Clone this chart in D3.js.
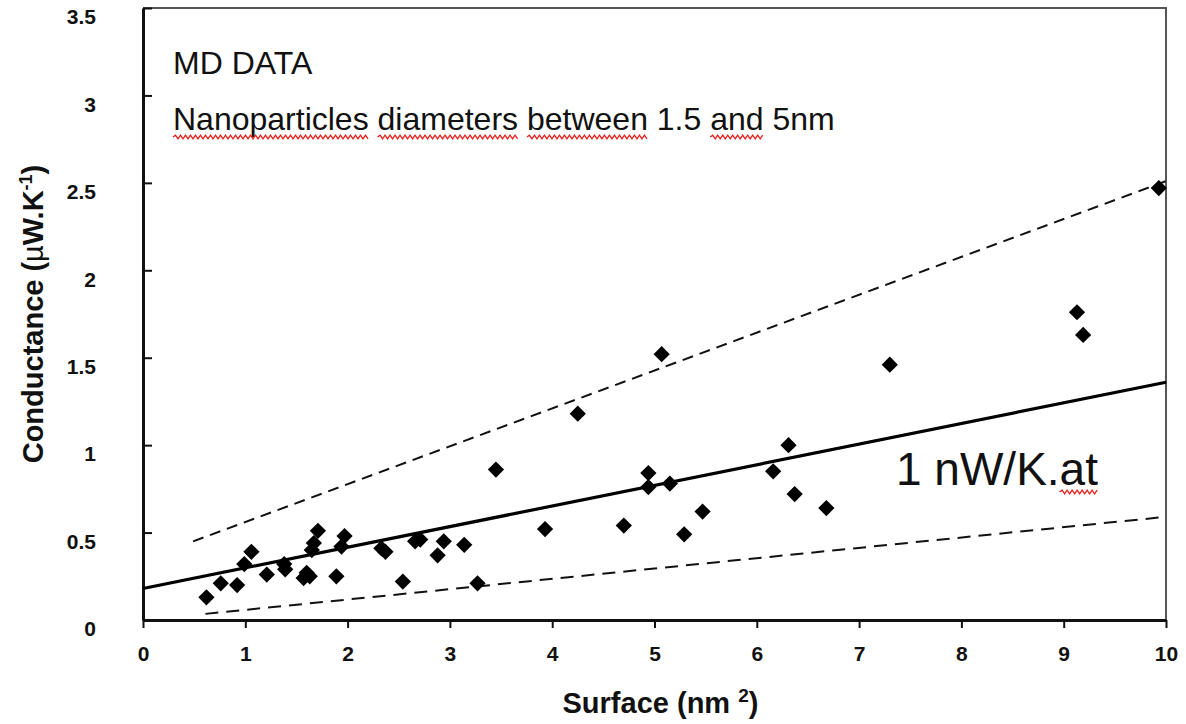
<!DOCTYPE html>
<html>
<head>
<meta charset="utf-8">
<script src="https://cdn.jsdelivr.net/npm/d3@7"></script>
<style>
  body { margin: 0; background: #fff; }
  text { font-family: "Liberation Sans", Arial, sans-serif; }
</style>
</head>
<body>
<script>
// MD data: surface (nm^2) vs conductance (uW/K)
var surface = [0.62, 0.76, 0.92, 0.99, 1.06, 1.21, 1.38, 1.39, 1.57, 1.60, 1.63, 1.65, 1.67, 1.71,
               1.89, 1.94, 1.97, 2.33, 2.37, 2.54, 2.66, 2.71, 2.88, 2.94, 3.14, 3.27, 3.45, 3.93,
               4.25, 4.70, 4.94, 4.94, 5.07, 5.15, 5.29, 5.47, 6.16, 6.31, 6.37, 6.68, 7.30, 9.13,
               9.19, 9.93];
var conductance = [0.13, 0.21, 0.20, 0.32, 0.39, 0.26, 0.32, 0.29, 0.24, 0.27, 0.25, 0.40, 0.44, 0.51,
                   0.25, 0.42, 0.48, 0.41, 0.39, 0.22, 0.45, 0.46, 0.37, 0.45, 0.43, 0.21, 0.86, 0.52,
                   1.18, 0.54, 0.84, 0.76, 1.52, 0.78, 0.49, 0.62, 0.85, 1.00, 0.72, 0.64, 1.46, 1.76,
                   1.63, 2.47];

// fit line (1 nW/K.at) and the two dashed bounds, as end points
var fitX = [0, 10],     fitY = [0.18, 1.36];
var upperX = [0.49, 10], upperY = [0.45, 2.51];
var lowerX = [0.61, 10], lowerY = [0.035, 0.59];

var xTicks = [0, 1, 2, 3, 4, 5, 6, 7, 8, 9, 10];
var yTicks = [0, 0.5, 1, 1.5, 2, 2.5, 3, 3.5];
var yTickLabels = ["0", "0.5", "1", "1.5", "2", "2.5", "3", "3.5"];

var width = 1186, height = 724;
var margin = {top: 8, right: 20, bottom: 104, left: 143};
var w = width - margin.left - margin.right;
var h = height - margin.top - margin.bottom;

var svg = d3.select("body").append("svg")
            .attr("width", width)
            .attr("height", height);

var g = svg.append("g")
           .attr("transform", "translate(" + margin.left + "," + margin.top + ")");

var x = d3.scaleLinear().domain([0, 10]).range([0, w]);
var y = d3.scaleLinear().domain([0, 3.5]).range([h, 0]);

// top and right frame, thin grey
g.append("path")
 .attr("d", "M0,0H" + w + "V" + h)
 .attr("fill", "none")
 .attr("stroke", "#555")
 .attr("stroke-width", 2);

// axes
var yAxis = g.append("g")
             .call(d3.axisLeft(y).tickValues(yTicks)
                     .tickFormat(function (d, i) { return yTickLabels[i]; })
                     .tickSizeInner(-9).tickSizeOuter(0).tickPadding(47));
var xAxis = g.append("g")
             .attr("transform", "translate(0," + h + ")")
             .call(d3.axisBottom(x).tickValues(xTicks).tickSizeInner(8).tickSizeOuter(0).tickPadding(18));

[xAxis, yAxis].forEach(function (a) {
  a.select(".domain").attr("stroke", "#111").attr("stroke-width", 3);
  a.selectAll(".tick line").attr("stroke", "#111").attr("stroke-width", 2);
  a.selectAll(".tick text")
   .attr("font-size", "21px")
   .attr("font-weight", "bold")
   .attr("font-family", "Liberation Sans, Arial, sans-serif")
   .attr("fill", "#111");
});
yAxis.selectAll(".tick text").attr("transform", "translate(0,9)");

// lines
var line = d3.line()
             .x(function (d) { return x(d[0]); })
             .y(function (d) { return y(d[1]); });

g.append("path")
 .datum(d3.zip(upperX, upperY))
 .attr("d", line)
 .attr("fill", "none")
 .attr("stroke", "#111")
 .attr("stroke-width", 2)
 .attr("stroke-dasharray", "11,7");

g.append("path")
 .datum(d3.zip(lowerX, lowerY))
 .attr("d", line)
 .attr("fill", "none")
 .attr("stroke", "#111")
 .attr("stroke-width", 2)
 .attr("stroke-dasharray", "13,8");

g.append("path")
 .datum(d3.zip(fitX, fitY))
 .attr("d", line)
 .attr("fill", "none")
 .attr("stroke", "#000")
 .attr("stroke-width", 3.2);

// diamond markers
var diamond = d3.symbol().type(d3.symbolSquare).size(132);
g.selectAll(".pt")
 .data(d3.zip(surface, conductance))
 .enter()
 .append("path")
 .attr("class", "pt")
 .attr("d", diamond)
 .attr("transform", function (d) { return "translate(" + x(d[0]) + "," + y(d[1]) + ") rotate(45)"; })
 .attr("fill", "#000");

// red spell-check squiggle under part of a text element
function squiggle(textSel, start, len, yy) {
  var node = textSel.node();
  var x0 = +textSel.attr("x") + (start > 0 ? node.getSubStringLength(0, start) : 0);
  var x1 = x0 + node.getSubStringLength(start, len);
  var d = "M" + x0 + "," + yy;
  var up = true;
  for (var xx = x0 + 2.5; xx <= x1; xx += 2.5) {
    d += "L" + xx + "," + (yy + (up ? -1.8 : 1.8));
    up = !up;
  }
  svg.append("path")
     .attr("d", d)
     .attr("fill", "none")
     .attr("stroke", "#e8201c")
     .attr("stroke-width", 1.3);
}

// annotations
svg.append("text")
   .attr("x", 173).attr("y", 74)
   .attr("font-size", "32px")
   .attr("fill", "#111")
   .text("MD DATA");

var nano = "Nanoparticles diameters between 1.5 and 5nm";
var nanoText = svg.append("text")
   .attr("x", 173).attr("y", 130)
   .attr("font-size", "32px")
   .attr("fill", "#111")
   .text(nano);
["Nanoparticles", "diameters", "between", "and"].forEach(function (word) {
  squiggle(nanoText, nano.indexOf(word), word.length, 137);
});

var fitLabel = "1 nW/K.at";
var fitText = svg.append("text")
   .attr("x", 896).attr("y", 485)
   .attr("font-size", "46px")
   .attr("fill", "#111")
   .text(fitLabel);
squiggle(fitText, fitLabel.indexOf("at"), 2, 492);

// axis titles
var xt = svg.append("text")
   .attr("x", margin.left + w / 2 + 6)
   .attr("y", 713)
   .attr("text-anchor", "middle")
   .attr("font-size", "29px")
   .attr("font-weight", "bold")
   .attr("fill", "#111");
xt.append("tspan").text("Surface (nm ");
xt.append("tspan").attr("dy", -11).attr("font-size", "19px").text("2");
xt.append("tspan").attr("dy", 11).text(")");

var yt = svg.append("text")
   .attr("transform", "translate(43," + (margin.top + h / 2) + ") rotate(-90)")
   .attr("text-anchor", "middle")
   .attr("font-size", "29px")
   .attr("font-weight", "bold")
   .attr("fill", "#111");
yt.append("tspan").text("Conductance (");
yt.append("tspan").attr("font-weight", "normal").text("\u00b5");
yt.append("tspan").text("W.K");
yt.append("tspan").attr("dy", -11).attr("font-size", "18px").text("-1");
yt.append("tspan").attr("dy", 11).text(")");
</script>
</body>
</html>
